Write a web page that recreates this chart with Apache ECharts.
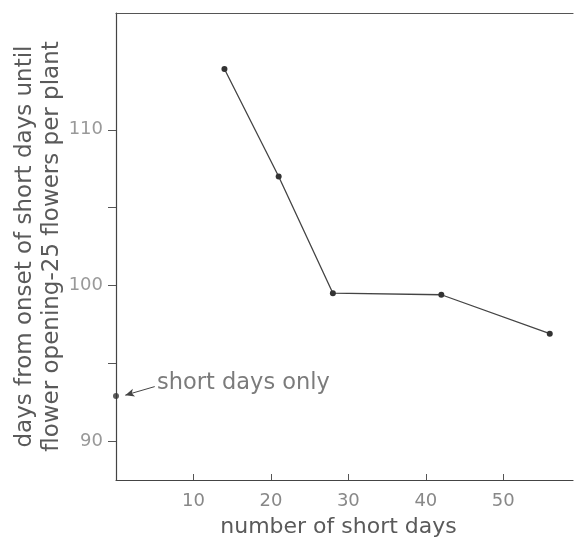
<!DOCTYPE html>
<html>
<head>
<meta charset="utf-8">
<script src="https://cdn.jsdelivr.net/npm/echarts@6/dist/echarts.min.js"></script>
<style>html,body{margin:0;padding:0;background:#fff}#c{width:575px;height:538px}</style>
</head>
<body>
<div id="c"></div>
<script>
// data
const shortDays = [14, 21, 28, 42, 56];
const daysToFlower = [113.9, 107.0, 99.5, 99.4, 96.9];
const shortOnlyX = [0];
const shortOnlyY = [92.9];
const xTicks = [10, 20, 30, 40, 50];
const yTicks = [90, 95, 100, 105, 110];
const yLabels = [90, 100, 110];
const annotationText = 'short days only';

const FONT = '"DejaVu Sans", sans-serif';
const chart = echarts.init(document.getElementById('c'));
chart.setOption({
  animation: false,
  backgroundColor: '#fff',
  grid: {left: 116, right: 2, top: 13, bottom: 58, containLabel: false, outerBoundsMode: 'none'},
  xAxis: [{
    type: 'value', min: 0, max: 59, position: 'bottom',
    name: 'number of short days', nameLocation: 'middle', nameGap: 36, nameMoveOverlap: false,
    nameTextStyle: {fontFamily: FONT, fontSize: 22, color: '#5a5a5a', padding: [0, 12, 0, 0]},
    axisLine: {show: true, lineStyle: {color: '#444', width: 1.2}},
    axisTick: {show: true, inside: true, length: 6, customValues: xTicks, lineStyle: {color: '#555'}},
    axisLabel: {customValues: xTicks, fontFamily: FONT, fontSize: 18, color: '#888', margin: 12},
    splitLine: {show: false}
  }, {
    type: 'value', min: 0, max: 59, position: 'top',
    axisLine: {show: true, lineStyle: {color: '#555', width: 1.2}},
    axisTick: {show: false}, axisLabel: {show: false}, splitLine: {show: false}
  }],
  yAxis: {
    type: 'value', min: 87.5, max: 117.5,
    name: 'days from onset of short days until\nflower opening-25 flowers per plant',
    nameLocation: 'middle', nameGap: 50, nameMoveOverlap: false,
    nameTextStyle: {fontFamily: FONT, fontSize: 23, color: '#5a5a5a', lineHeight: 27},
    axisLine: {show: true, lineStyle: {color: '#444', width: 1.2}},
    axisTick: {show: true, inside: false, length: 8, customValues: yTicks, lineStyle: {color: '#555'}},
    axisLabel: {customValues: yLabels, fontFamily: FONT, fontSize: 18, color: '#999', margin: 13},
    splitLine: {show: false}
  },
  series: [{
    type: 'line',
    data: shortDays.map((x, i) => [x, daysToFlower[i]]),
    symbol: 'circle', symbolSize: 6,
    itemStyle: {color: '#333'},
    lineStyle: {color: '#444', width: 1.3}
  }, {
    type: 'scatter',
    data: shortOnlyX.map((x, i) => [x, shortOnlyY[i]]),
    symbol: 'circle', symbolSize: 6,
    itemStyle: {color: '#333'},
    markLine: {
      silent: true,
      symbol: ['arrow', 'none'], symbolSize: [6, 9],
      lineStyle: {color: '#444', width: 1, type: 'solid'},
      label: {show: false},
      data: [[{coord: [1.2, 92.95]}, {coord: [5.0, 93.5]}]]
    }
  }, {
    type: 'scatter',
    data: [[5.3, 93.75]],
    symbolSize: 0,
    label: {show: true, position: 'right', distance: 0, formatter: annotationText,
      fontFamily: FONT, fontSize: 22.5, color: '#5a5a5a'}
  }]
});
</script>
</body>
</html>
